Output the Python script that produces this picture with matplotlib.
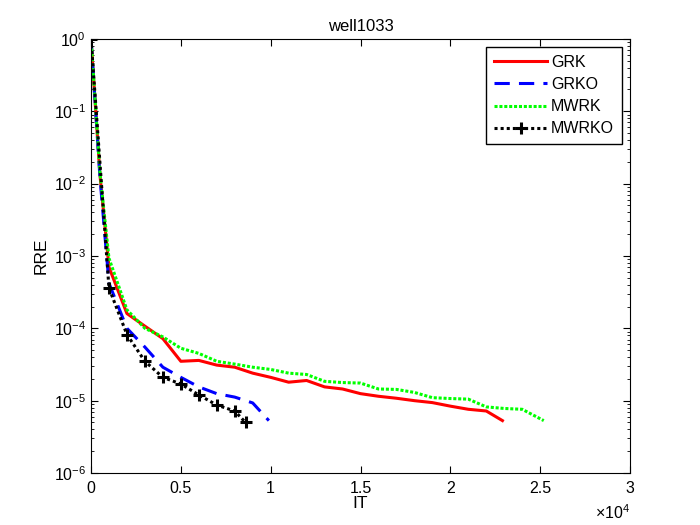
import numpy as np
import matplotlib.pyplot as plt
from matplotlib.ticker import FuncFormatter, LogLocator

plt.rcParams['font.family'] = ['Liberation Sans', 'DejaVu Sans']
plt.rcParams['mathtext.fontset'] = 'custom'
plt.rcParams['mathtext.rm'] = 'Liberation Sans'
plt.rcParams['mathtext.it'] = 'Liberation Sans'

# GRK
it_grk = [0, 500, 1000, 2000, 3000, 4000, 5000, 6000, 7000, 8000, 9000, 10000, 11000,
          12000, 13000, 14000, 15000, 16000, 17000, 18000, 19000, 20000, 21000, 22000, 22900]
rre_grk = [1.0, 1.3e-2, 7.0e-4, 1.6e-4, 1.07e-4, 7.2e-5, 3.5e-5, 3.6e-5, 3.1e-5, 2.9e-5, 2.4e-5, 2.1e-5, 1.8e-5,
           1.9e-5, 1.55e-5, 1.45e-5, 1.25e-5, 1.15e-5, 1.08e-5, 1.0e-5, 9.4e-6, 8.4e-6, 7.6e-6, 7.2e-6, 5.3e-6]

# GRKO
it_grko = [0, 500, 1000, 2000, 3000, 4000, 5000, 6000, 7000, 8000, 9000, 9900]
rre_grko = [1.0, 1.2e-2, 4.2e-4, 1.0e-4, 5.5e-5, 2.9e-5, 2.1e-5, 1.55e-5, 1.25e-5, 1.12e-5, 9.3e-6, 5.3e-6]

# MWRK
it_mwrk = [0, 500, 1000, 2000, 3000, 4000, 5000, 6000, 7000, 8000, 9000, 10000, 11000,
           12000, 13000, 14000, 15000, 16000, 17000, 18000, 19000, 20000, 21000, 22000, 23000, 24000, 25200]
rre_mwrk = [1.0, 1.4e-2, 9.3e-4, 1.8e-4, 1.0e-4, 7.6e-5, 5.3e-5, 4.5e-5, 3.5e-5, 3.2e-5, 2.9e-5, 2.7e-5, 2.4e-5,
            2.3e-5, 1.85e-5, 1.78e-5, 1.75e-5, 1.45e-5, 1.43e-5, 1.3e-5, 1.1e-5, 1.07e-5, 1.05e-5, 8.2e-6, 7.8e-6, 7.6e-6, 5.3e-6]

# MWRKO
it_mwrko = [0, 1000, 2000, 3000, 4000, 5000, 6000, 7000, 8000, 8600]
rre_mwrko = [1.0, 3.6e-4, 8.2e-5, 3.5e-5, 2.1e-5, 1.7e-5, 1.2e-5, 8.7e-6, 7.2e-6, 5.0e-6]

fig = plt.figure(figsize=(7, 5.25), dpi=100)
ax = fig.add_axes([0.13, 0.099, 0.77, 0.827])

ax.semilogy(it_grk, rre_grk, color='#ff0000', lw=2.2, label='GRK')
ax.semilogy(it_grko, rre_grko, color='#0000ff', lw=2.2, ls=(0, (5, 3)), label='GRKO')
ax.semilogy(it_mwrk, rre_mwrk, color='#00ff00', lw=2.2, ls=(0, (1, 0.6)), label='MWRK')
ax.semilogy(it_mwrko, rre_mwrko, color='black', lw=2.2, ls=(0, (1, 1)), marker='+',
            markersize=9, mew=2.2, label='MWRKO')

ax.set_xlim(0, 30000)
ax.set_ylim(1e-6, 1)
ax.set_xticks(np.arange(0, 30001, 5000))
ax.xaxis.set_major_formatter(FuncFormatter(lambda v, p: '%g' % (v / 1e4)))
ax.yaxis.set_major_locator(LogLocator(base=10, numticks=10))
ax.yaxis.set_minor_locator(LogLocator(base=10, subs=np.arange(2, 10), numticks=20))

ax.tick_params(which='both', direction='in', top=True, right=True, labelsize=11.5)
ax.tick_params(axis='x', pad=6)
ax.tick_params(which='major', length=5)
ax.tick_params(which='minor', length=2.5)
for s in ax.spines.values():
    s.set_linewidth(0.8)

ax.text(1.0, -0.07, r'$\times10^{4}$', transform=ax.transAxes, ha='right', va='top', fontsize=11.5)

ax.set_title('well1033', fontsize=12)
ax.set_xlabel('IT', fontsize=12.5, labelpad=0)
ax.set_ylabel('RRE', fontsize=12.5)

ax.legend(loc='upper right', fontsize=11.5, handlelength=3.3, frameon=True, fancybox=False,
          edgecolor='black', framealpha=1, borderaxespad=0.5, borderpad=0.5,
          labelspacing=0.45, handletextpad=0.25)

fig.savefig('out.png', dpi=100)
